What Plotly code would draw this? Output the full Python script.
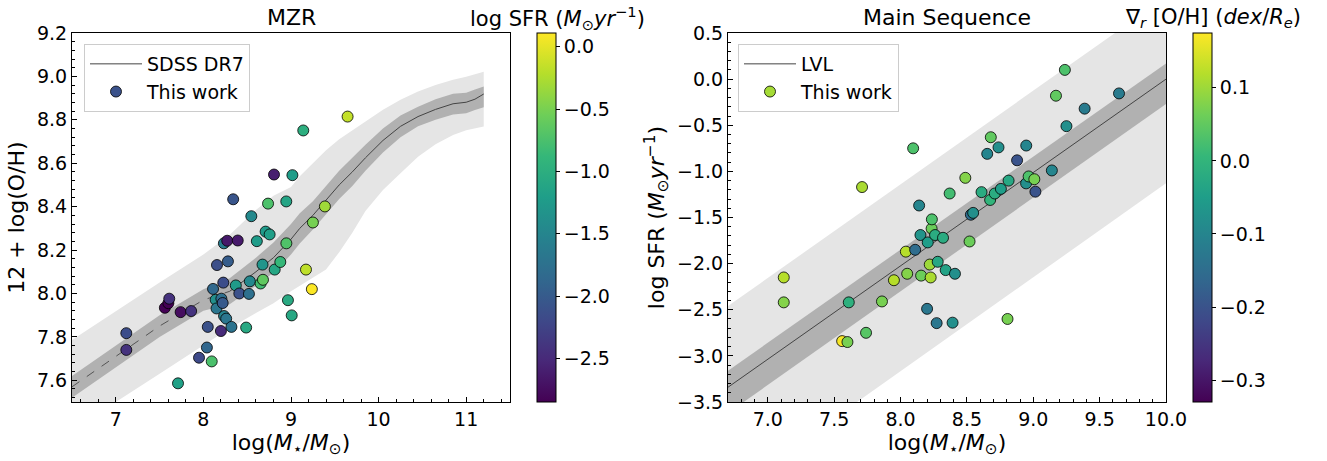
import numpy as np
import plotly.graph_objects as go

W, H = 1327, 461

# ---------------- galaxy sample ----------------
gal_logm = [7.12, 7.12, 7.56, 7.60, 7.61, 7.71, 7.74, 7.86, 7.95, 8.04,
            8.05, 8.095, 8.11, 8.14, 8.15, 8.155, 8.20, 8.205, 8.22, 8.227,
            8.234, 8.236, 8.26, 8.272, 8.28, 8.32, 8.34, 8.37, 8.392, 8.41,
            8.488, 8.52, 8.53, 8.547, 8.61, 8.653, 8.675, 8.68, 8.71, 8.738,
            8.756, 8.806, 8.814, 8.878, 8.946, 8.947, 8.965, 9.008, 9.016, 9.14,
            9.171, 9.238, 9.25, 9.387, 9.646]
gal_oh = [7.817, 7.740, 7.934, 7.955, 7.976, 7.586, 7.914, 7.919, 7.704, 7.751,
          7.846, 7.687, 8.021, 7.971, 7.931, 8.131, 7.827, 7.976, 7.956, 8.050,
          8.231, 7.896, 7.884, 8.243, 8.148, 7.846, 8.434, 8.037, 8.244, 8.000,
          7.843, 7.998, 8.056, 8.356, 8.241, 8.046, 8.133, 8.063, 8.285, 8.414,
          8.272, 8.548, 8.110, 8.145, 8.424, 8.231, 7.969, 7.899, 8.545, 8.751,
          8.110, 8.020, 8.327, 8.401, 8.815]
gal_logsfr = [-2.15, -2.42, -2.84, -2.85, -2.42, -1.17, -2.75, -2.41, -2.18, -1.87,
              -2.11, -0.75, -1.85, -1.37, -1.69, -2.13, -2.49, -1.77, -2.01, -2.15,
              -1.62, -1.52, -1.69, -2.645, -1.98, -1.72, -2.07, -1.24, -2.64, -2.11,
              -1.07, -1.76, -1.47, -1.45, -1.225, -0.81, -1.31, -0.63, -1.24, -0.74,
              -1.19, -2.60, -1.10, -0.88, -1.13, -0.72, -1.055, -1.085, -1.22, -0.99,
              -0.18, 0.10, -0.51, -0.32, -0.155]
gal_grad = [0.12, 0.08, 0.17, 0.07, -0.01, 0.11, 0.04, 0.07, 0.12, 0.12,
            0.08, 0.03, -0.15, -0.10, -0.07, 0.06, -0.13, -0.05, 0.10, 0.11,
            0.06, 0.03, -0.02, -0.13, -0.03, -0.02, -0.04, 0.02, -0.08, -0.08,
            0.08, 0.06, -0.15, -0.08, -0.02, -0.10, 0.0, 0.05, -0.02, -0.08,
            -0.05, 0.07, -0.03, -0.20, -0.08, -0.10, 0.03, 0.07, -0.20, -0.10,
            0.05, 0.03, -0.08, -0.12, -0.12]

# colour-scale limits
sfr_range = [-2.85, 0.11]
grad_range = [-0.33, 0.175]

# ---------------- SDSS DR7 MZR (median, 1 and 2 sigma) ----------------
sdss_logm = [6.5, 7.0, 7.5, 8.0, 8.3, 8.6, 8.8, 9.0, 9.1, 9.25, 9.4,
             9.55, 9.7, 9.85, 10.05, 10.25, 10.45, 10.65, 10.85, 11.0, 11.1, 11.2]
sdss_med = [7.57, 7.71, 7.85, 7.97, 8.01, 8.10, 8.165, 8.25, 8.30, 8.36, 8.43,
            8.50, 8.56, 8.625, 8.705, 8.77, 8.815, 8.848, 8.874, 8.881, 8.895, 8.919]
sdss_1s_hi = [7.62, 7.76, 7.90, 8.02, 8.07, 8.165, 8.235, 8.32, 8.37, 8.425, 8.495,
              8.565, 8.625, 8.685, 8.76, 8.82, 8.86, 8.895, 8.92, 8.925, 8.94, 8.953]
sdss_1s_lo = [7.52, 7.66, 7.80, 7.92, 7.95, 8.035, 8.095, 8.18, 8.23, 8.295, 8.365,
              8.435, 8.495, 8.565, 8.65, 8.72, 8.77, 8.80, 8.825, 8.83, 8.845, 8.858]
sdss_2s_hi = [7.786, 7.92, 8.05, 8.18, 8.27, 8.385, 8.45, 8.49, 8.54, 8.60, 8.66,
              8.71, 8.75, 8.79, 8.846, 8.892, 8.93, 8.961, 8.985, 8.999, 9.01, 9.022]
sdss_2s_lo = [7.29, 7.50, 7.63, 7.76, 7.84, 7.91, 7.955, 8.01, 8.035, 8.07, 8.11,
              8.19, 8.28, 8.38, 8.477, 8.554, 8.63, 8.687, 8.73, 8.752, 8.762, 8.769]
sdss_dash_end = 8.3  # median drawn dashed below this mass

# ---------------- LVL main sequence ----------------
lvl_logm = [6.7, 10.0]
lvl_sfr = [-3.34, 0.0]
lvl_1s_hi = [-3.16, 0.17]
lvl_1s_lo = [-3.62, -0.27]
lvl_2s_hi = [-2.46, 0.89]
lvl_2s_lo = [-4.49, -1.13]

LIGHT = "#e5e5e5"
DARK = "#b1b1b1"
LINE = "#444444"
FONT = "DejaVu Sans"
TICK_SIZE = 19
LABEL_SIZE = 22
CBAR_TITLE_SIZE = 21

fig = go.Figure()


def band(x, lo, hi, color, xa, ya):
    fig.add_trace(go.Scatter(x=x, y=lo, mode="lines", line=dict(width=0),
                             showlegend=False, hoverinfo="skip", xaxis=xa, yaxis=ya))
    fig.add_trace(go.Scatter(x=x, y=hi, mode="lines", line=dict(width=0),
                             fill="tonexty", fillcolor=color,
                             showlegend=False, hoverinfo="skip", xaxis=xa, yaxis=ya))


# --- left panel: mass-metallicity relation ---
band(sdss_logm, sdss_2s_lo, sdss_2s_hi, LIGHT, "x", "y")
band(sdss_logm, sdss_1s_lo, sdss_1s_hi, DARK, "x", "y")

m = np.array(sdss_logm)
med = np.array(sdss_med)
low = m <= sdss_dash_end
high = m >= sdss_dash_end
fig.add_trace(go.Scatter(x=m[low], y=med[low], mode="lines",
                         line=dict(color="#555555", width=1, dash="dash"),
                         showlegend=False, hoverinfo="skip", xaxis="x", yaxis="y"))
fig.add_trace(go.Scatter(x=m[high], y=med[high], mode="lines",
                         line=dict(color=LINE, width=1),
                         name="SDSS DR7", legend="legend", xaxis="x", yaxis="y"))

cb_common = dict(thickness=19, thicknessmode="pixels", len=369, lenmode="pixels",
                 yanchor="bottom", y=59 / H, xanchor="left", xpad=0, ypad=0,
                 outlinewidth=1, outlinecolor="black", ticks="outside", ticklen=4,
                 tickcolor="black",
                 tickfont=dict(size=TICK_SIZE, family=FONT, color="black"),
                 tickformat=".1f")

fig.add_trace(go.Scatter(
    x=gal_logm, y=gal_oh, mode="markers",
    marker=dict(size=11, color=gal_logsfr, colorscale="Viridis",
                cmin=sfr_range[0], cmax=sfr_range[1],
                line=dict(color="black", width=0.8),
                showscale=True,
                colorbar=dict(x=537 / W, tickvals=[-2.5, -2.0, -1.5, -1.0, -0.5, 0.0],
                              **cb_common)),
    showlegend=False, xaxis="x", yaxis="y"))
fig.add_trace(go.Scatter(x=[None], y=[None], mode="markers",
                         marker=dict(size=11, color="#3b528b",
                                     line=dict(color="black", width=0.8)),
                         name="This work", legend="legend", xaxis="x", yaxis="y"))

# --- right panel: star-forming main sequence ---
band(lvl_logm, lvl_2s_lo, lvl_2s_hi, LIGHT, "x2", "y2")
band(lvl_logm, lvl_1s_lo, lvl_1s_hi, DARK, "x2", "y2")
fig.add_trace(go.Scatter(x=lvl_logm, y=lvl_sfr, mode="lines",
                         line=dict(color=LINE, width=1),
                         name="LVL", legend="legend2", xaxis="x2", yaxis="y2"))
fig.add_trace(go.Scatter(
    x=gal_logm, y=gal_logsfr, mode="markers",
    marker=dict(size=11, color=gal_grad, colorscale="Viridis",
                cmin=grad_range[0], cmax=grad_range[1],
                line=dict(color="black", width=0.8),
                showscale=True,
                colorbar=dict(x=1193 / W, tickvals=[-0.3, -0.2, -0.1, 0.0, 0.1],
                              **cb_common)),
    showlegend=False, xaxis="x2", yaxis="y2"))
fig.add_trace(go.Scatter(x=[None], y=[None], mode="markers",
                         marker=dict(size=11, color="#a5db36",
                                     line=dict(color="black", width=0.8)),
                         name="This work", legend="legend2", xaxis="x2", yaxis="y2"))

axis_common = dict(showline=True, mirror=True, linecolor="black", linewidth=1,
                   ticks="inside", ticklen=5, tickcolor="black", showgrid=False,
                   zeroline=False,
                   tickfont=dict(size=TICK_SIZE, family=FONT, color="black"),
                   title_font=dict(size=LABEL_SIZE, family=FONT, color="black"))

ydom = [59 / H, 428 / H]
mstar = "log(<i>M</i><sub>⋆</sub>/<i>M</i><sub>⊙</sub>)"
sfr_unit = "(<i>M</i><sub>⊙</sub><i>yr</i><sup>−1</sup>)"

legend_common = dict(y=1 - 44 / H, xanchor="left", yanchor="top", traceorder="normal",
                     itemwidth=52, bgcolor="rgba(255,255,255,0.8)",
                     bordercolor="#cccccc", borderwidth=1,
                     font=dict(size=TICK_SIZE, family=FONT, color="black"))

fig.update_layout(
    width=W, height=H,
    margin=dict(l=0, r=0, t=0, b=0, autoexpand=False),
    paper_bgcolor="white", plot_bgcolor="white",
    font=dict(family=FONT, color="black"),
    xaxis=dict(domain=[72 / W, 510 / W], range=[6.5, 11.5], anchor="y",
               tickvals=[7, 8, 9, 10, 11],
               minor=dict(ticks="inside", ticklen=3, dtick=0.2, tickcolor="black"),
               title=dict(text=mstar, standoff=4), **axis_common),
    yaxis=dict(domain=ydom, range=[7.5, 9.2], anchor="x",
               tickvals=[7.6, 7.8, 8.0, 8.2, 8.4, 8.6, 8.8, 9.0, 9.2], tickformat=".1f",
               minor=dict(ticks="inside", ticklen=3, dtick=0.04, tickcolor="black"),
               title=dict(text="12 + log(O/H)", standoff=6), **axis_common),
    xaxis2=dict(domain=[728 / W, 1166 / W], range=[6.7, 10.0], anchor="y2",
                tickvals=[7.0, 7.5, 8.0, 8.5, 9.0, 9.5, 10.0], tickformat=".1f",
                minor=dict(ticks="inside", ticklen=3, dtick=0.1, tickcolor="black"),
                title=dict(text=mstar, standoff=4), **axis_common),
    yaxis2=dict(domain=ydom, range=[-3.5, 0.5], anchor="x2",
                tickvals=[-3.5, -3.0, -2.5, -2.0, -1.5, -1.0, -0.5, 0.0, 0.5],
                tickformat=".1f",
                minor=dict(ticks="inside", ticklen=3, dtick=0.1, tickcolor="black"),
                title=dict(text="log SFR " + sfr_unit, standoff=6), **axis_common),
    legend=dict(x=84 / W, **legend_common),
    legend2=dict(x=738 / W, **legend_common),
)

title_y = 1 - 18 / H
fig.add_annotation(text="MZR", x=291 / W, y=title_y, xref="paper", yref="paper",
                   xanchor="center", yanchor="middle", showarrow=False,
                   font=dict(size=LABEL_SIZE, family=FONT, color="black"))
fig.add_annotation(text="Main Sequence", x=947 / W, y=title_y, xref="paper", yref="paper",
                   xanchor="center", yanchor="middle", showarrow=False,
                   font=dict(size=LABEL_SIZE, family=FONT, color="black"))
fig.add_annotation(text="log SFR " + sfr_unit, x=647 / W, y=title_y,
                   xref="paper", yref="paper", xanchor="right", yanchor="middle",
                   showarrow=False,
                   font=dict(size=CBAR_TITLE_SIZE, family=FONT, color="black"))
fig.add_annotation(text="∇<sub><i>r</i></sub> [O/H] (<i>dex</i>/<i>R</i><sub><i>e</i></sub>)",
                   x=1303 / W, y=title_y, xref="paper", yref="paper",
                   xanchor="right", yanchor="middle", showarrow=False,
                   font=dict(size=CBAR_TITLE_SIZE, family=FONT, color="black"))

fig.write_html("out.html")
